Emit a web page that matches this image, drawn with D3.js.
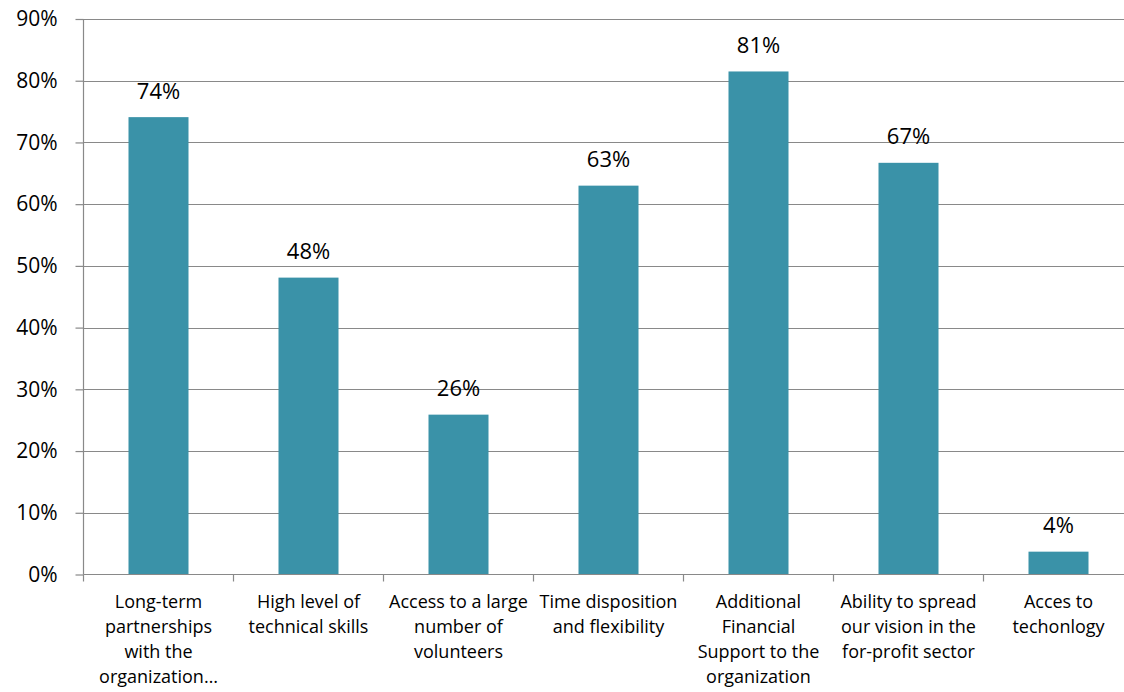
<!DOCTYPE html>
<html>
<head>
<meta charset="utf-8">
<script src="https://cdn.jsdelivr.net/npm/d3@7"></script>
<style>
  html, body { margin: 0; padding: 0; background: #fff; }
  svg { display: block; font-family: "Open Sans", sans-serif; }
</style>
</head>
<body>
<svg id="chart" width="1124" height="692"></svg>
<script>
// ---- data ----
const categories = [
  "Long-term\npartnerships\nwith the\norganization…",
  "High level of\ntechnical skills",
  "Access to a large\nnumber of\nvolunteers",
  "Time disposition\nand flexibility",
  "Additional\nFinancial\nSupport to the\norganization",
  "Ability to spread\nour vision in the\nfor-profit sector",
  "Acces to\ntechonlogy"
];
const values = [0.741, 0.481, 0.259, 0.630, 0.815, 0.667, 0.037];
const valueLabels = ["74%", "48%", "26%", "63%", "81%", "67%", "4%"];
const yTicks = [0, 0.1, 0.2, 0.3, 0.4, 0.5, 0.6, 0.7, 0.8, 0.9];

// ---- layout ----
const plotL = 83.5, plotR = 1133.5, plotT = 19, plotB = 574.5;
const barColor = "#3a92a8";
const gridColor = "#898989";

const svg = d3.select("#chart");

const x = d3.scaleBand()
  .domain(categories)
  .range([plotL, plotR])
  .paddingInner(0.6)
  .paddingOuter(0.3);

const y = d3.scaleLinear().domain([0, 0.9]).range([plotB, plotT]);

// gridlines
svg.append("g")
  .selectAll("line")
  .data(yTicks.filter(d => d > 0))
  .join("line")
  .attr("x1", plotL).attr("x2", plotR)
  .attr("y1", d => Math.round(y(d)) + 0.5)
  .attr("y2", d => Math.round(y(d)) + 0.5)
  .attr("stroke", gridColor).attr("stroke-width", 1.2);

// bars
svg.append("g")
  .selectAll("rect")
  .data(values)
  .join("rect")
  .attr("x", (d, i) => x(categories[i]))
  .attr("width", x.bandwidth())
  .attr("y", d => y(d))
  .attr("height", d => y(0) - y(d))
  .attr("fill", barColor);

// y axis
const yAxis = d3.axisLeft(y)
  .tickValues(yTicks)
  .tickFormat(d3.format(".0%"))
  .tickSize(8)
  .tickPadding(18);
const gy = svg.append("g").attr("transform", `translate(${plotL},0)`).call(yAxis);
gy.select(".domain").attr("stroke", gridColor).attr("stroke-width", 1.2)
  .attr("d", `M0,${plotT}V${plotB}`);
gy.selectAll(".tick line").attr("stroke", gridColor).attr("stroke-width", 1.2);
gy.selectAll(".tick text")
  .attr("fill", "#000")
  .style("font-family", "'Open Sans', sans-serif")
  .style("font-size", "21px");

// x axis
const gx = svg.append("g").attr("transform", `translate(0,${plotB})`);
gx.append("line")
  .attr("x1", plotL).attr("x2", plotR).attr("y1", 0).attr("y2", 0)
  .attr("stroke", gridColor).attr("stroke-width", 1.2);
const step = x.step();
const boundaries = d3.range(categories.length + 1).map(i => plotL + i * step);
gx.selectAll("line.tk")
  .data(boundaries)
  .join("line")
  .attr("class", "tk")
  .attr("x1", d => d).attr("x2", d => d)
  .attr("y1", 0).attr("y2", 7)
  .attr("stroke", gridColor).attr("stroke-width", 1.2);

// category labels
const lineH = 25;
svg.append("g")
  .selectAll("text")
  .data(categories)
  .join("text")
  .attr("x", d => x(d) + x.bandwidth() / 2)
  .attr("y", 608)
  .attr("text-anchor", "middle")
  .style("font-size", "18px")
  .attr("fill", "#000")
  .each(function (d) {
    const t = d3.select(this);
    d.split("\n").forEach((ln, k) => {
      t.append("tspan")
        .attr("x", x(d) + x.bandwidth() / 2)
        .attr("dy", k === 0 ? 0 : lineH)
        .text(ln);
    });
  });

// value labels
svg.append("g")
  .selectAll("text")
  .data(values)
  .join("text")
  .attr("x", (d, i) => x(categories[i]) + x.bandwidth() / 2)
  .attr("y", d => y(d) - 18.5)
  .attr("text-anchor", "middle")
  .style("font-size", "22px")
  .attr("fill", "#000")
  .text((d, i) => valueLabels[i]);
</script>
</body>
</html>
